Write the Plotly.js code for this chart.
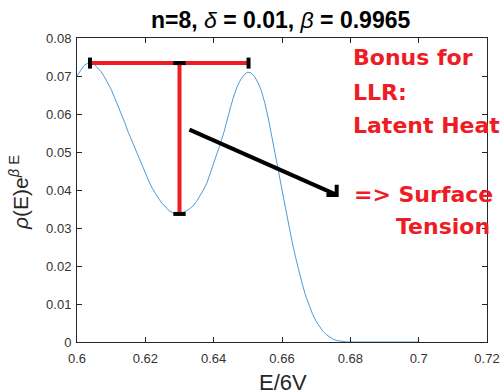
<!DOCTYPE html>
<html>
<head>
<meta charset="utf-8">
<script src="https://cdn.plot.ly/plotly-3.0.1.min.js"></script>
<style>html,body{margin:0;padding:0;background:#fff;}#chart{width:502px;height:392px;}</style>
</head>
<body>
<div id="chart"></div>
<script>
// Curve: rho(E) e^{beta E} vs E/6V
const energy = [0.600,0.601,0.602,0.603,0.604,0.605,0.606,0.607,0.608,0.609,
  0.610,0.611,0.612,0.613,0.614,0.615,0.616,0.617,0.618,0.619,
  0.620,0.621,0.622,0.623,0.624,0.625,0.626,0.627,0.628,0.629,
  0.630,0.631,0.632,0.633,0.634,0.635,0.636,0.637,0.638,0.639,
  0.640,0.641,0.642,0.643,0.644,0.645,0.646,0.647,0.648,0.649,
  0.650,0.651,0.652,0.653,0.654,0.655,0.656,0.657,0.658,0.659,
  0.660,0.661,0.662,0.663,0.664,0.665,0.666,0.667,0.668,0.669,
  0.670,0.671,0.672,0.673,0.674,0.675,0.676,0.677,0.678,0.679,
  0.680,0.690,0.700];
const density = [0.0700,0.0715,0.0727,0.0733,0.0734,0.0731,0.0722,0.0712,0.0698,0.0682,
  0.0665,0.0643,0.0622,0.0600,0.0577,0.0552,0.0530,0.0508,0.0486,0.0465,
  0.0444,0.0424,0.0405,0.0389,0.0376,0.0364,0.0353,0.0345,0.0340,0.0337,
  0.0337,0.0340,0.0345,0.0351,0.0358,0.0370,0.0384,0.0400,0.0418,0.0443,
  0.0469,0.0496,0.0523,0.0552,0.0590,0.0620,0.0650,0.0675,0.0692,0.0704,
  0.0710,0.0708,0.0698,0.0682,0.0660,0.0628,0.0588,0.0544,0.0495,0.0448,
  0.0400,0.0352,0.0306,0.0262,0.0222,0.0185,0.0150,0.0120,0.0094,0.0072,
  0.0054,0.0040,0.0028,0.0019,0.0012,0.0007,0.0004,0.0002,0.0001,0.0000,
  0.0000,0.0000,0.0000];

// Latent-heat bracket: first peak, minimum, second peak (x) ; peak and minimum heights (y)
const bracketX = [0.6038, 0.6300, 0.6502];
const bracketY = [0.0734, 0.0337];
// Arrow toward "Surface Tension"
const arrowFrom = [0.6329, 0.0559];
const arrowTo = [0.6760, 0.0387];

const xTicks = [0.6, 0.62, 0.64, 0.66, 0.68, 0.7, 0.72];
const yTicks = [0, 0.01, 0.02, 0.03, 0.04, 0.05, 0.06, 0.07, 0.08];

const noteLines = ["Bonus for", "LLR:", "Latent Heat", "=> Surface", "Tension"];

const RED = '#ee1c25';
const capH = 0.00145, capW = 0.0018;

const traces = [
  {x: energy, y: density, mode: 'lines', line: {color: '#4b9bd8', width: 1}, hoverinfo: 'skip'},
  {x: [bracketX[0], bracketX[2]], y: [bracketY[0], bracketY[0]], mode: 'lines', line: {color: RED, width: 4}},
  {x: [bracketX[1], bracketX[1]], y: [bracketY[0], bracketY[1]], mode: 'lines', line: {color: RED, width: 4}},
  {x: [bracketX[0], bracketX[0]], y: [bracketY[0]-capH, bracketY[0]+capH], mode: 'lines', line: {color: '#000', width: 4}},
  {x: [bracketX[2], bracketX[2]], y: [bracketY[0]-capH, bracketY[0]+capH], mode: 'lines', line: {color: '#000', width: 4}},
  {x: [bracketX[1]-capW, bracketX[1]+capW], y: [bracketY[0], bracketY[0]], mode: 'lines', line: {color: '#000', width: 4}},
  {x: [bracketX[1]-capW, bracketX[1]+capW], y: [bracketY[1], bracketY[1]], mode: 'lines', line: {color: '#000', width: 4}},
  {x: [arrowFrom[0], arrowTo[0]], y: [arrowFrom[1], arrowTo[1]], mode: 'lines', line: {color: '#000', width: 4}},
  {x: [arrowTo[0]-0.0030, arrowTo[0], arrowTo[0]], y: [arrowTo[1], arrowTo[1], arrowTo[1]+0.0027], mode: 'lines', line: {color: '#000', width: 4}}
];

const pxY = (py) => (342.5 - py) / 305;
const pxX = (px) => (px - 77) / 410;
const noteLeft = [351, 351, 351, 352, 394];
const noteMid = [57, 92, 125, 195, 227];
const annotations = noteLines.map((t, i) => ({
  text: t, xref: 'paper', yref: 'paper', x: pxX(noteLeft[i]), y: pxY(noteMid[i]),
  xanchor: 'left', yanchor: 'middle', showarrow: false,
  font: {family: 'DejaVu Sans', size: 22, color: RED, weight: 'bold'}
}));
annotations.push({
  text: '<i>ρ</i>(E)e<sup><i>β</i> E</sup>', xref: 'paper', yref: 'paper',
  x: pxX(19), y: pxY(193), xanchor: 'center', yanchor: 'middle', textangle: -90,
  showarrow: false, font: {family: 'Liberation Sans, Arial', size: 21, color: '#262626'}
});
annotations.push({
  text: 'E/6V', xref: 'paper', yref: 'paper',
  x: pxX(283), y: pxY(383), xanchor: 'center', yanchor: 'middle',
  showarrow: false, font: {family: 'Liberation Sans, Arial', size: 22, color: '#262626'}
});

const axisCommon = {
  showgrid: false, zeroline: false, showline: true, linecolor: '#262626', linewidth: 1,
  mirror: 'ticks', ticks: 'inside', ticklen: 5, tickwidth: 1, tickcolor: '#262626',
  tickfont: {family: 'Liberation Sans, Arial', size: 13, color: '#333'}
};

const layout = {
  width: 502, height: 392,
  margin: {l: 77, r: 15, t: 38, b: 50},
  paper_bgcolor: '#fff', plot_bgcolor: '#fff',
  showlegend: false,
  title: {
    text: '<b>n=8, </b><i>δ</i><b> = 0.01, </b><i>β</i><b> = 0.9965</b>',
    x: 0.559, xanchor: 'center', y: 1 - 20/392, yanchor: 'middle',
    font: {family: 'Liberation Sans, Arial', size: 23, color: '#000'}
  },
  xaxis: Object.assign({}, axisCommon, {
    range: [0.6, 0.72], tickvals: xTicks, ticktext: xTicks.map(String),
    ticklabelstandoff: 4
  }),
  yaxis: Object.assign({}, axisCommon, {
    range: [0, 0.08], tickvals: yTicks, ticktext: yTicks.map(String),
    ticklabelstandoff: 2
  }),
  annotations: annotations
};

Plotly.newPlot('chart', traces, layout, {displayModeBar: false, staticPlot: true});
</script>
</body>
</html>
